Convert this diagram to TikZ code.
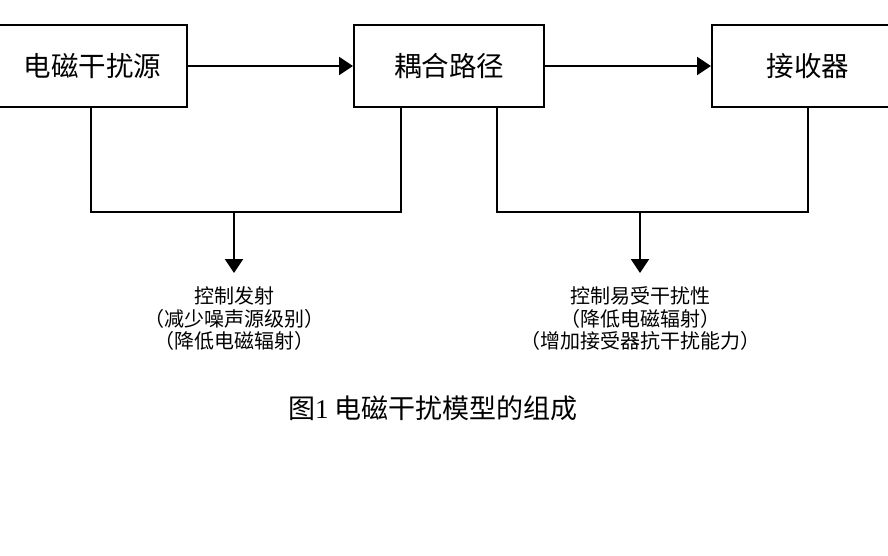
\documentclass[tikz,border=0pt]{standalone}
\usepackage{fontspec}
\newfontfamily\cjk{Noto Sans CJK SC}
\newfontfamily\lser{Liberation Serif}
\usetikzlibrary{arrows.meta}
\tikzset{
  blk/.style={draw, line width=2pt, minimum height=82pt, inner sep=0pt,
    font=\cjk\fontsize{27.5}{30}\selectfont},
  wire/.style={line width=2pt},
  arr/.style={line width=2pt, -{Triangle[length=14pt,width=18pt]}},
  lbl/.style={align=center, inner sep=0pt, font=\cjk\fontsize{20}{22.5}\selectfont},
}
\begin{document}
\begin{tikzpicture}[x=1pt,y=-1pt]
\useasboundingbox (0,0) rectangle (888,555);
\node[blk, minimum width=188pt] (b1) at (92.5,66) {电磁干扰源};
\node[blk, minimum width=190pt] (b2) at (449,66) {耦合路径};
\node[blk, minimum width=192pt] (b3) at (808,66) {接收器};
\draw[arr] (b1.east) -- (b2.west);
\draw[arr] (b2.east) -- (b3.west);
\coordinate (b1s) at ([xshift=-1.5pt]b1.south);
\coordinate (b2l) at ([xshift=-48pt]b2.south);
\coordinate (b2r) at ([xshift=48pt]b2.south);
\coordinate (j1) at (234,212);
\coordinate (j2) at (640,212);
\draw[wire] (b1s) -- (b1s |- j1) -- (b2l |- j1) -- (b2l);
\draw[wire] (b2r) -- (b2r |- j2) -- (b3.south |- j2) -- (b3.south);
\node[lbl] (l1) at (234,319) {控制发射\\（减少噪声源级别）\\（降低电磁辐射）};
\node[lbl] (l2) at (640,319) {控制易受干扰性\\（降低电磁辐射）\\（增加接受器抗干扰能力）};
\coordinate (t1) at (234,273);
\coordinate (t2) at (640,273);
\draw[arr] (j1) -- (t1);
\draw[arr] (j2) -- (t2);
\node[font=\cjk\fontsize{27}{30}\selectfont, inner sep=0pt] (cap) at (433,408) {图{\lser 1} 电磁干扰模型的组成};
\end{tikzpicture}
\end{document}
